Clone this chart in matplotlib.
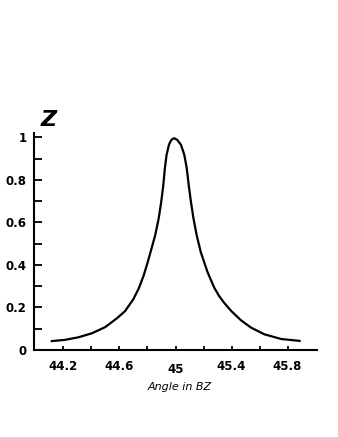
import numpy as np
import matplotlib
matplotlib.use("Agg")
import matplotlib.pyplot as plt
from matplotlib.ticker import MultipleLocator

# Curve
angle = [44.117, 44.212, 44.308, 44.404, 44.499, 44.583, 44.640, 44.700, 44.738,
         44.773, 44.800, 44.822, 44.855, 44.880, 44.898, 44.913, 44.924, 44.936,
         44.953, 44.970, 44.990, 45.012, 45.039, 45.063, 45.080, 45.094, 45.110,
         45.128, 45.151, 45.180, 45.228, 45.275, 45.310, 45.347, 45.400, 45.467,
         45.540, 45.634, 45.753, 45.885]
z = [0.042, 0.048, 0.060, 0.079, 0.108, 0.150, 0.183, 0.240, 0.290,
     0.351, 0.410, 0.461, 0.540, 0.619, 0.697, 0.776, 0.855, 0.917,
     0.965, 0.988, 0.996, 0.988, 0.965, 0.917, 0.855, 0.776, 0.697,
     0.619, 0.540, 0.461, 0.367, 0.295, 0.255, 0.222, 0.182, 0.140,
     0.105, 0.074, 0.052, 0.043]

x_ticks = [44.2, 44.6, 45.0, 45.4, 45.8]
x_minor = [44.4, 44.8, 45.2, 45.6]
x_labels = ["44.2", "44.6", "45", "45.4", "45.8"]
y_ticks = [0, 0.2, 0.4, 0.6, 0.8, 1.0]
y_labels = ["0", "0.2", "0.4", "0.6", "0.8", "1"]

plt.rcParams['font.family'] = ['DejaVu Sans']

fig = plt.figure(figsize=(3.38, 4.37), dpi=100)
ax = fig.add_axes([0.1006, 0.199, 0.8374, 0.497])

ax.plot(angle, z, color='black', lw=1.6, solid_joinstyle='round')

ax.set_xlim(43.99, 46.01)
ax.set_ylim(0, 1.021)

for side in ['top', 'right']:
    ax.spines[side].set_visible(False)
for side in ['left', 'bottom']:
    ax.spines[side].set_linewidth(1.5)

ax.set_xticks(x_ticks)
ax.set_xticks(x_minor, minor=True)
ax.set_xticklabels(x_labels, fontsize=8.5, fontweight='bold')
ax.set_yticks(y_ticks)
ax.set_yticklabels(y_labels, fontsize=8.5, fontweight='bold')
ax.yaxis.set_minor_locator(MultipleLocator(0.1))

ax.tick_params(axis='x', which='both', direction='in', length=3, width=1.3, pad=7.5)
ax.tick_params(axis='y', which='both', direction='in', length=6, width=1.3, pad=5.5)
# the "45" label sits a little lower in the original
ax.xaxis.get_major_ticks()[2].set_pad(9.5)

ax.text(0.516, -0.168, "Angle in BZ", transform=ax.transAxes, ha='center', va='center',
        fontsize=8, fontstyle='italic')
ax.text(0.05, 1.06, "Z", transform=ax.transAxes, ha='center', va='center',
        fontsize=16, fontweight='bold', fontstyle='italic')

fig.savefig("out.png", dpi=100)
